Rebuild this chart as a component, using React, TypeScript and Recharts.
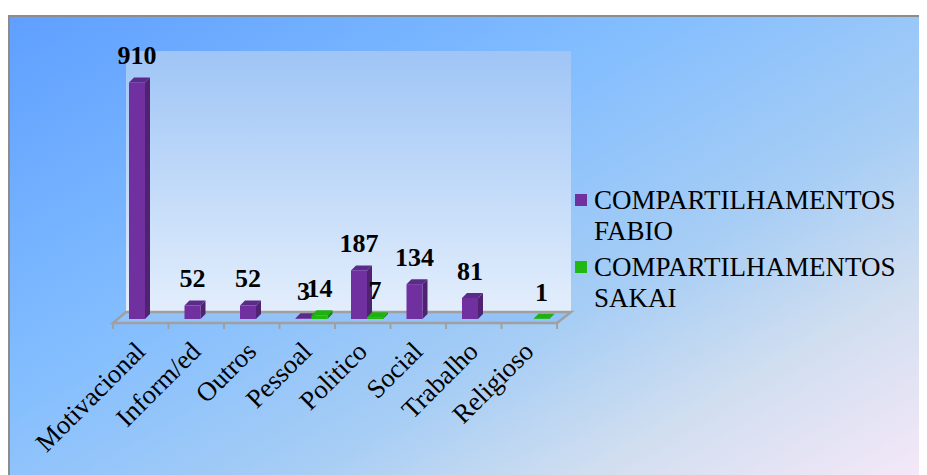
import React from "react";
import { Bar, BarChart, LabelList, Legend, XAxis, YAxis, usePlotArea } from "recharts";

const CATEGORIES = ["Motivacional", "Inform/ed", "Outros", "Pessoal", "Politico", "Social", "Trabalho", "Religioso"];
const FABIO = [910, 52, 52, 3, 187, 134, 81, null];
const SAKAI = [null, null, null, 14, 7, null, null, 1];
const SERIES_FABIO = "COMPARTILHAMENTOS FABIO";
const SERIES_SAKAI = "COMPARTILHAMENTOS SAKAI";

const data = CATEGORIES.map((name, i) => ({ name, fabio: FABIO[i], sakai: SAKAI[i] }));

const PURPLE = { front: "#7030a0", side: "#4f2372", top: "#5c2a88" };
const GREEN = { front: "#22b814", side: "#178a0c", top: "#1fb012" };
const SERIF = '"Liberation Serif", "Times New Roman", serif';

// fake-3D look: bars are pushed right a little and get a top and side face
const SHIFT = 4;
const DEPTH = 5;

function Bar3D(props: any) {
  const { x, y, width, height, colors } = props;
  if (height == null || width == null) return null;
  const left = x + SHIFT;
  const right = left + width;
  const bottom = y + height;
  return (
    <g>
      <polygon
        points={`${right},${y} ${right + DEPTH},${y - DEPTH} ${right + DEPTH},${bottom - DEPTH} ${right},${bottom}`}
        fill={colors.side}
      />
      <polygon
        points={`${left},${y} ${left + DEPTH},${y - DEPTH} ${right + DEPTH},${y - DEPTH} ${right},${y}`}
        fill={colors.top}
      />
      <rect x={left} y={y} width={width} height={height} fill={colors.front} />
    </g>
  );
}

function ValueLabel(props: any) {
  const { x, y, width, value } = props;
  if (value == null) return null;
  return (
    <text x={x + width / 2 + SHIFT} y={y - 18} textAnchor="middle" fontFamily={SERIF} fontSize={26} fontWeight="bold" fill="#000">
      {value}
    </text>
  );
}

// back wall and floor behind the bars
function Stage() {
  const plot = usePlotArea();
  if (!plot) return null;
  const { x, y, width, height } = plot;
  const bottom = y + height;
  const floorBack = bottom - 7;
  const floorFront = bottom + 4;
  const step = width / CATEGORIES.length;
  return (
    <g>
      <defs>
        <linearGradient id="wallFill" x1="0" y1="0" x2="0" y2="1">
          <stop offset="0%" stopColor="#9fc5f6" />
          <stop offset="100%" stopColor="#e3eefc" />
        </linearGradient>
      </defs>
      <rect x={x + 13} y={y - 8} width={width + 1} height={height + 1} fill="url(#wallFill)" />
      <polygon
        points={`${x + 13},${floorBack} ${x + width + 14},${floorBack} ${x + width},${floorFront} ${x},${floorFront}`}
        fill="#93c2f8"
        stroke="#a0a0a0"
        strokeWidth={2.5}
      />
      {CATEGORIES.map((_, i) => (
        <line key={i} x1={x + i * step} x2={x + i * step} y1={floorFront} y2={floorFront + 6} stroke="#a0a0a0" strokeWidth={2} />
      ))}
      <line x1={x + width} x2={x + width} y1={floorFront} y2={floorFront + 6} stroke="#a0a0a0" strokeWidth={2} />
    </g>
  );
}

function CategoryTick(props: any) {
  const { x, y, payload } = props;
  return (
    <text
      transform={`translate(${x + 6},${y + 26}) rotate(-45)`}
      textAnchor="end"
      fontFamily={SERIF}
      fontSize={26.6}
      fill="#000"
    >
      {payload.value}
    </text>
  );
}

function LegendBox() {
  const rows = [
    { color: PURPLE.front, lines: SERIES_FABIO.split(" ") },
    { color: GREEN.front, lines: SERIES_SAKAI.split(" ") },
  ];
  return (
    <div style={{ fontFamily: SERIF, fontSize: 27, lineHeight: "31px", color: "#000" }}>
      {rows.map((row) => (
        <div key={row.lines[1]} style={{ position: "relative", paddingLeft: 19, marginBottom: 5, whiteSpace: "nowrap" }}>
          <span style={{ position: "absolute", left: 0, top: 9, width: 12, height: 12, background: row.color }} />
          {row.lines[0]}
          <br />
          {row.lines[1]}
        </div>
      ))}
    </div>
  );
}

export default function App() {
  return (
    <div
      style={{
        position: "relative",
        marginTop: 7,
        width: 919,
        height: 460,
        overflow: "hidden",
        boxShadow: "inset 2px 2px 0 #8c8c8c",
        background: "linear-gradient(150deg, #5f9fff 0%, #82bdff 37%, #a6cdf5 63%, #d0def0 80%, #f5e8f8 100%)",
      }}
    >
      <BarChart
        width={919}
        height={460}
        data={data}
        barSize={16}
        barGap={0}
        margin={{ top: 44, right: 370, bottom: 56, left: 105 }}
        style={{ position: "absolute", left: 0, top: 0 }}
      >
        <Stage />
        <XAxis dataKey="name" height={100} axisLine={false} tickLine={false} interval={0} tick={<CategoryTick />} />
        <YAxis hide domain={[0, 1000]} />
        <Legend
          layout="vertical"
          align="center"
          verticalAlign="middle"
          content={<LegendBox />}
          wrapperStyle={{ left: 567, top: 170, width: 340, height: 150 }}
        />
        <Bar dataKey="fabio" name={SERIES_FABIO} isAnimationActive={false} shape={<Bar3D colors={PURPLE} />}>
          <LabelList dataKey="fabio" content={<ValueLabel />} />
        </Bar>
        <Bar dataKey="sakai" name={SERIES_SAKAI} isAnimationActive={false} shape={<Bar3D colors={GREEN} />}>
          <LabelList dataKey="sakai" content={<ValueLabel />} />
        </Bar>
      </BarChart>
    </div>
  );
}
